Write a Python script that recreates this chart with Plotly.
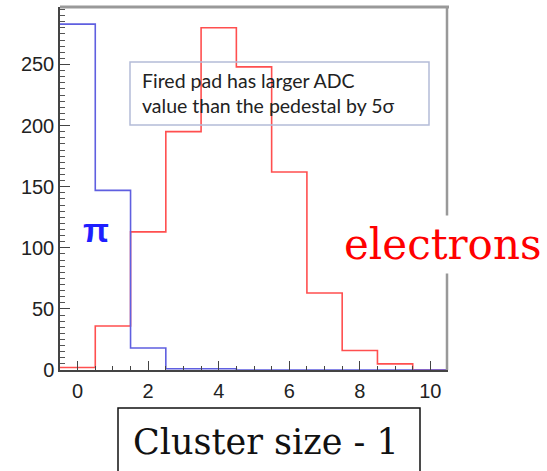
import plotly.graph_objects as go

# ---- data (histogram bin contents, bins centred on 0..10) ----
bin_centers = [0, 1, 2, 3, 4, 5, 6, 7, 8, 9, 10]
pion_counts = [283, 147, 18, 1, 1, 0, 0, 0, 0, 0, 0]
electron_counts = [2, 36, 113, 195, 280, 248, 162, 63, 16, 5, 0]
x_tick_vals = [0, 2, 4, 6, 8, 10]
y_tick_vals = [0, 50, 100, 150, 200, 250]

W, H = 547, 471
L, R, T, B = 60, 99, 7, 101
pw, ph = W - L - R, H - T - B


def px(xp):
    return (xp - L) / pw


def py(yp):
    return (H - B - yp) / ph


def steps(centers, counts):
    edges = [c - 0.5 for c in centers] + [centers[-1] + 0.5]
    ys = list(counts) + [counts[-1]]
    return edges, ys


fig = go.Figure()
ex, ey = steps(bin_centers, electron_counts)
fig.add_trace(go.Scatter(x=ex, y=ey, mode="lines", line_shape="hv",
                         line=dict(color="#ff4f4f", width=1.6), showlegend=False))
bx, by = steps(bin_centers, pion_counts)
fig.add_trace(go.Scatter(x=bx, y=by, mode="lines", line_shape="hv",
                         line=dict(color="#5f5fe0", width=1.6), showlegend=False))

axis_font = dict(family="Liberation Sans, Arial", size=20, color="#222")
fig.update_layout(
    width=W, height=H,
    margin=dict(l=L, r=R, t=T, b=B),
    paper_bgcolor="white", plot_bgcolor="white",
    xaxis=dict(range=[-0.5, 10.5], tickvals=x_tick_vals, ticks="inside", ticklen=9,
               tickwidth=1.2, tickcolor="#444", showgrid=False, zeroline=False,
               showline=True, linecolor="#444", linewidth=1.5, tickfont=axis_font,
               ticklabelstandoff=2,
               minor=dict(dtick=0.5, ticks="inside", ticklen=4, tickcolor="#444", showgrid=False)),
    yaxis=dict(range=[0, 297], tickvals=y_tick_vals, ticks="inside", ticklen=10,
               tickwidth=1.2, tickcolor="#444", showgrid=False, zeroline=False,
               showline=True, linecolor="#444", linewidth=1.5, tickfont=axis_font,
               ticklabelstandoff=0,
               minor=dict(dtick=5, ticks="inside", ticklen=5, tickcolor="#555", showgrid=False)),
    shapes=[
        # top frame
        dict(type="line", xref="paper", yref="paper", x0=0, x1=px(449), y0=1, y1=1,
             line=dict(color="#999", width=3)),
        # right frame
        dict(type="line", xref="paper", yref="paper", x0=px(447), x1=px(447), y0=0, y1=1,
             line=dict(color="#999", width=2.5)),
        # info box
        dict(type="rect", xref="paper", yref="paper", x0=px(130), x1=px(429),
             y0=py(125), y1=py(62), line=dict(color="#b4bcd8", width=1.5)),
        # bottom label box
        dict(type="rect", xref="paper", yref="paper", x0=px(118), x1=px(420),
             y0=py(475), y1=py(408), line=dict(color="#111", width=1.5)),
    ],
    annotations=[
        dict(xref="paper", yref="paper", x=px(140), y=py(93), xanchor="left", yanchor="middle",
             text="Fired pad has larger ADC<br>value than the pedestal by 5σ", align="left",
             showarrow=False, font=dict(family="Lato", size=19.5, color="#222")),
        dict(xref="paper", yref="paper", x=px(96), y=py(230), xanchor="center", yanchor="middle",
             text="<b>π</b>", showarrow=False,
             font=dict(family="Liberation Sans", size=34, color="#1f1fff")),
        dict(xref="paper", yref="paper", x=px(443), y=py(244), xanchor="center", yanchor="middle",
             text="electrons", showarrow=False, bgcolor="white", borderpad=4,
             font=dict(family="DejaVu Serif", size=42, color="#ff0000")),
        dict(xref="paper", yref="paper", x=px(266), y=py(442), xanchor="center", yanchor="middle",
             text="Cluster size - 1", showarrow=False,
             font=dict(family="DejaVu Serif", size=35, color="#111")),
    ],
)

fig.write_html("out.html")
